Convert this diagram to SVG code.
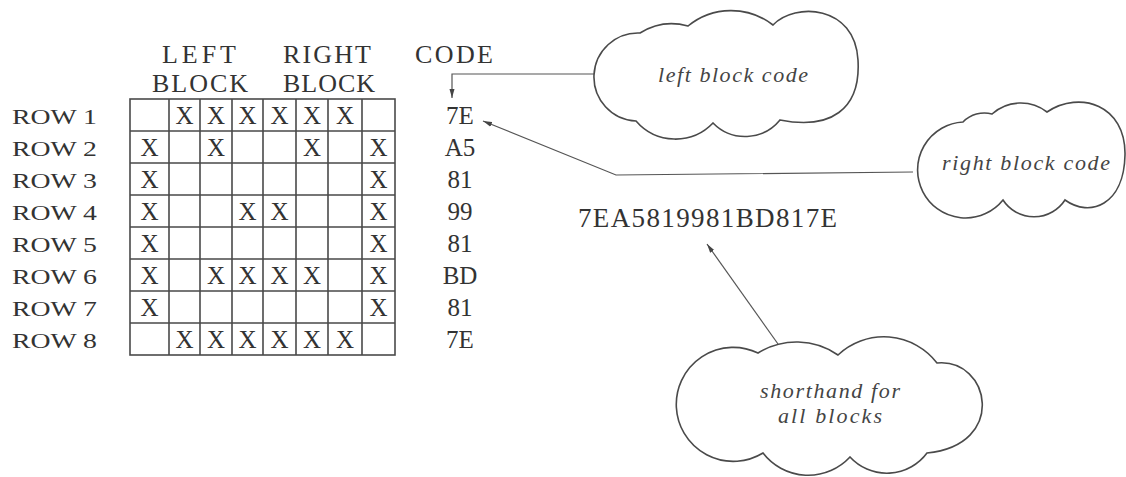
<svg xmlns="http://www.w3.org/2000/svg" width="1126" height="477" viewBox="0 0 1126 477">
<style>
.t{font-family:"Liberation Serif","Times New Roman",serif;fill:#333}
.hd{font-size:26px}
.rl{font-size:22px}
.x{font-size:25px;text-anchor:middle}
.cd{font-size:25px;text-anchor:middle}
.it{font-family:"Liberation Serif","Times New Roman",serif;font-style:italic;font-size:22px;fill:#444}
.g{stroke:#4a4a4a;stroke-width:1.6;fill:none}
.cloud{fill:#fff;stroke:#4a4a4a;stroke-width:1.6}
.con{fill:none;stroke:#555;stroke-width:1.2}
</style>
<defs>
<marker id="ah" markerUnits="userSpaceOnUse" markerWidth="10" markerHeight="6" refX="9" refY="3" orient="auto">
<path d="M0,0.5 L9,3 L0,5.5 z" fill="#444"/>
</marker>
</defs>
<rect width="1126" height="477" fill="#fff"/>

<g id="headers" class="t hd">
<text x="162" y="63" textLength="74" lengthAdjust="spacing">LEFT</text>
<text x="152" y="92" textLength="96" lengthAdjust="spacing">BLOCK</text>
<text x="283" y="63" textLength="88" lengthAdjust="spacing">RIGHT</text>
<text x="283" y="92" textLength="92" lengthAdjust="spacing">BLOCK</text>
<text x="415" y="63" textLength="78" lengthAdjust="spacing">CODE</text>
</g>

<g id="grid">
<rect class="g" x="130" y="99" width="265" height="256" stroke-width="2"/>
<path class="g" d="M169 99V355M200 99V355M232 99V355M263 99V355M296 99V355M328 99V355M362 99V355M130 131H395M130 163H395M130 195H395M130 227H395M130 259H395M130 291H395M130 323H395"/>
<g class="t x">
<text x="184.5" y="124">X</text><text x="216" y="124">X</text><text x="247.5" y="124">X</text><text x="279.5" y="124">X</text><text x="312" y="124">X</text><text x="345" y="124">X</text>
<text x="149.5" y="156">X</text><text x="216" y="156">X</text><text x="312" y="156">X</text><text x="378.5" y="156">X</text>
<text x="149.5" y="188">X</text><text x="378.5" y="188">X</text>
<text x="149.5" y="220">X</text><text x="247.5" y="220">X</text><text x="279.5" y="220">X</text><text x="378.5" y="220">X</text>
<text x="149.5" y="252">X</text><text x="378.5" y="252">X</text>
<text x="149.5" y="284">X</text><text x="216" y="284">X</text><text x="247.5" y="284">X</text><text x="279.5" y="284">X</text><text x="312" y="284">X</text><text x="378.5" y="284">X</text>
<text x="149.5" y="316">X</text><text x="378.5" y="316">X</text>
<text x="184.5" y="348">X</text><text x="216" y="348">X</text><text x="247.5" y="348">X</text><text x="279.5" y="348">X</text><text x="312" y="348">X</text><text x="345" y="348">X</text>
</g>
</g>

<g id="row-labels" class="t rl">
<text x="12" y="124" textLength="85" lengthAdjust="spacingAndGlyphs">ROW 1</text>
<text x="12" y="156" textLength="85" lengthAdjust="spacingAndGlyphs">ROW 2</text>
<text x="12" y="188" textLength="85" lengthAdjust="spacingAndGlyphs">ROW 3</text>
<text x="12" y="220" textLength="85" lengthAdjust="spacingAndGlyphs">ROW 4</text>
<text x="12" y="252" textLength="85" lengthAdjust="spacingAndGlyphs">ROW 5</text>
<text x="12" y="284" textLength="85" lengthAdjust="spacingAndGlyphs">ROW 6</text>
<text x="12" y="316" textLength="85" lengthAdjust="spacingAndGlyphs">ROW 7</text>
<text x="12" y="348" textLength="85" lengthAdjust="spacingAndGlyphs">ROW 8</text>
</g>

<g id="codes" class="t cd">
<text x="460" y="124">7E</text>
<text x="460" y="156">A5</text>
<text x="460" y="188">81</text>
<text x="460" y="220">99</text>
<text x="460" y="252">81</text>
<text x="460" y="284">BD</text>
<text x="460" y="316">81</text>
<text x="460" y="348">7E</text>
</g>

<g id="shorthand-code">
<text class="t" x="578" y="227" font-size="27" textLength="259" lengthAdjust="spacing">7EA5819981BD817E</text>
</g>

<g id="connectors">
<path class="con" d="M595 74H452V98" marker-end="url(#ah)"/>
<path class="con" d="M913 172L616 175L483 121" marker-end="url(#ah)"/>
<path class="con" d="M778 344L707 244" marker-end="url(#ah)"/>
</g>

<g id="cloud-left">
<path class="cloud" d="M636 121A44 44 0 0 1 640 33A60 60 0 0 1 688 26A68 68 0 0 1 773 25C795 2 855 5 858 60C861 110 830 130 780 120A45 45 0 0 1 713 123A52 52 0 0 1 636 121Z"/>
<text class="it" x="658" y="82" textLength="150" lengthAdjust="spacing">left block code</text>
</g>

<g id="cloud-right">
<path class="cloud" d="M1003 200A48 48 0 1 1 963 122A30 30 0 0 1 992 114A43 43 0 0 1 1047 112C1080 90 1126 105 1125 155C1124 205 1090 218 1065 200A37 37 0 0 1 1003 200Z"/>
<text class="it" x="942" y="170" font-size="23" textLength="168" lengthAdjust="spacing">right block code</text>
</g>

<g id="cloud-shorthand">
<path class="cloud" d="M763 453A57 57 0 1 1 758 353A73 73 0 0 1 838 355A67 67 0 0 1 937 363C990 358 1008 445 927 453A50 50 0 0 1 850 457A57 57 0 0 1 763 453Z"/>
<text class="it" x="760" y="398" textLength="140" lengthAdjust="spacing">shorthand for</text>
<text class="it" x="778" y="423" textLength="104" lengthAdjust="spacing">all blocks</text>
</g>
</svg>
